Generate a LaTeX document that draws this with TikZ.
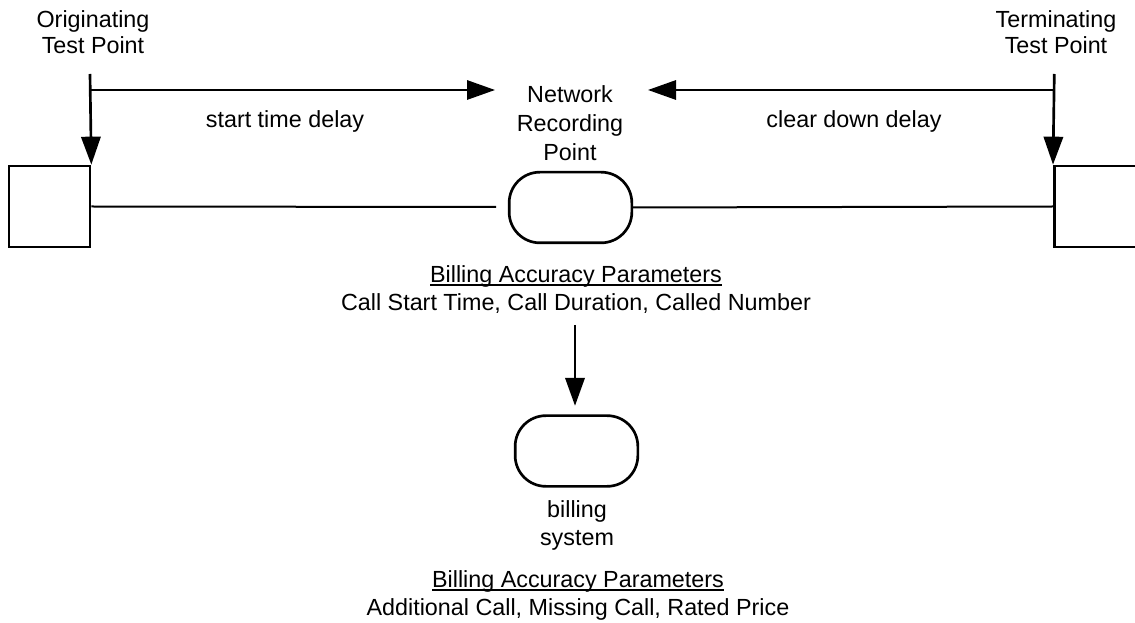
\documentclass[tikz,border=0pt]{standalone}
\usepackage{fontspec}
\setmainfont{Liberation Sans}
\usepackage{tikz}
\usetikzlibrary{positioning, arrows.meta}
\newcommand{\ulabel}[1]{\setbox0\hbox{#1}\rlap{\rule[-2.6pt]{\wd0}{1pt}}\box0}

\begin{document}
\begin{tikzpicture}
            [
            x=0.75pt, y=-0.75pt,
            every node/.style={font=\fontsize{17.5}{21}\selectfont, inner sep=0pt},
            endpoint/.style={rectangle,draw,line width=2pt,minimum size=60.75pt},
            recorder/.style={rectangle,rounded corners=23pt,draw,line width=2pt,minimum width=92pt,minimum height=53pt},
            textlabel/.style={align=center,anchor=north},
            wire/.style={line width=1.5pt},
            arrow/.style={line width=1.5pt,-{Triangle[length=21pt,width=14.5pt]}}
            ]
        \useasboundingbox (0,0) rectangle (1135,623);
        % test points and recording points
        \node[endpoint] (orig) at (49.5,206.5) {};
        \node[endpoint, minimum width=64pt] (term) at (1097,206.5) {};
        \node[recorder] (nrp) at (570.5,207.5) {};
        \node[recorder] (bill) at (576.5,451) {};
        % texts
        \node[textlabel, font=\fontsize{17.5}{19.5}\selectfont] (origlab) at (93,10) {Originating\\Test Point};
        \node[textlabel, font=\fontsize{17.5}{19.5}\selectfont] (termlab) at (1056,10) {Terminating\\Test Point};
        \node[textlabel, font=\fontsize{17.5}{21.75}\selectfont] (nrplab) at (570,85) {Network\\Recording\\Point};
        \node[anchor=base] (startlab) at (285,128) {start time delay};
        \node[anchor=base] (clearlab) at (854,128) {clear down delay};
        \node[textlabel] (acc1) at (576,265) {\ulabel{Billing Accuracy Parameters}\\Call Start Time, Call Duration, Called Number};
        \node[textlabel] (billlab) at (577,500) {billing\\system};
        \node[textlabel] (acc2) at (578,570) {\ulabel{Billing Accuracy Parameters}\\Additional Call, Missing Call, Rated Price};
        % free ends
        \coordinate (origtop) at (90,74);
        \coordinate (termtop) at (1054.3,74);
        \coordinate (origmid) at (90,90);
        \coordinate (termmid) at (1054.3,90);
        \coordinate (startend) at (495,90);
        \coordinate (clearend) at (648,90);
        \coordinate (wireend) at (496,207);
        \coordinate (billtop) at (575,325);
        % connectors
        \draw[arrow, line width=2pt] (origtop) -- (orig.north east);
        \draw[arrow, line width=2pt] (termtop) -- (term.north west);
        \draw[arrow] (origmid) -- (startend);
        \draw[arrow] (termmid) -- (clearend);
        \draw[wire] (orig.east) -- (wireend);
        \draw[wire] (nrp.east) -- (term.west);
        \draw[arrow, line width=2pt, shorten >=6.4pt] (billtop) -- (billtop |- bill.north);
        \end{tikzpicture}
\end{document}
